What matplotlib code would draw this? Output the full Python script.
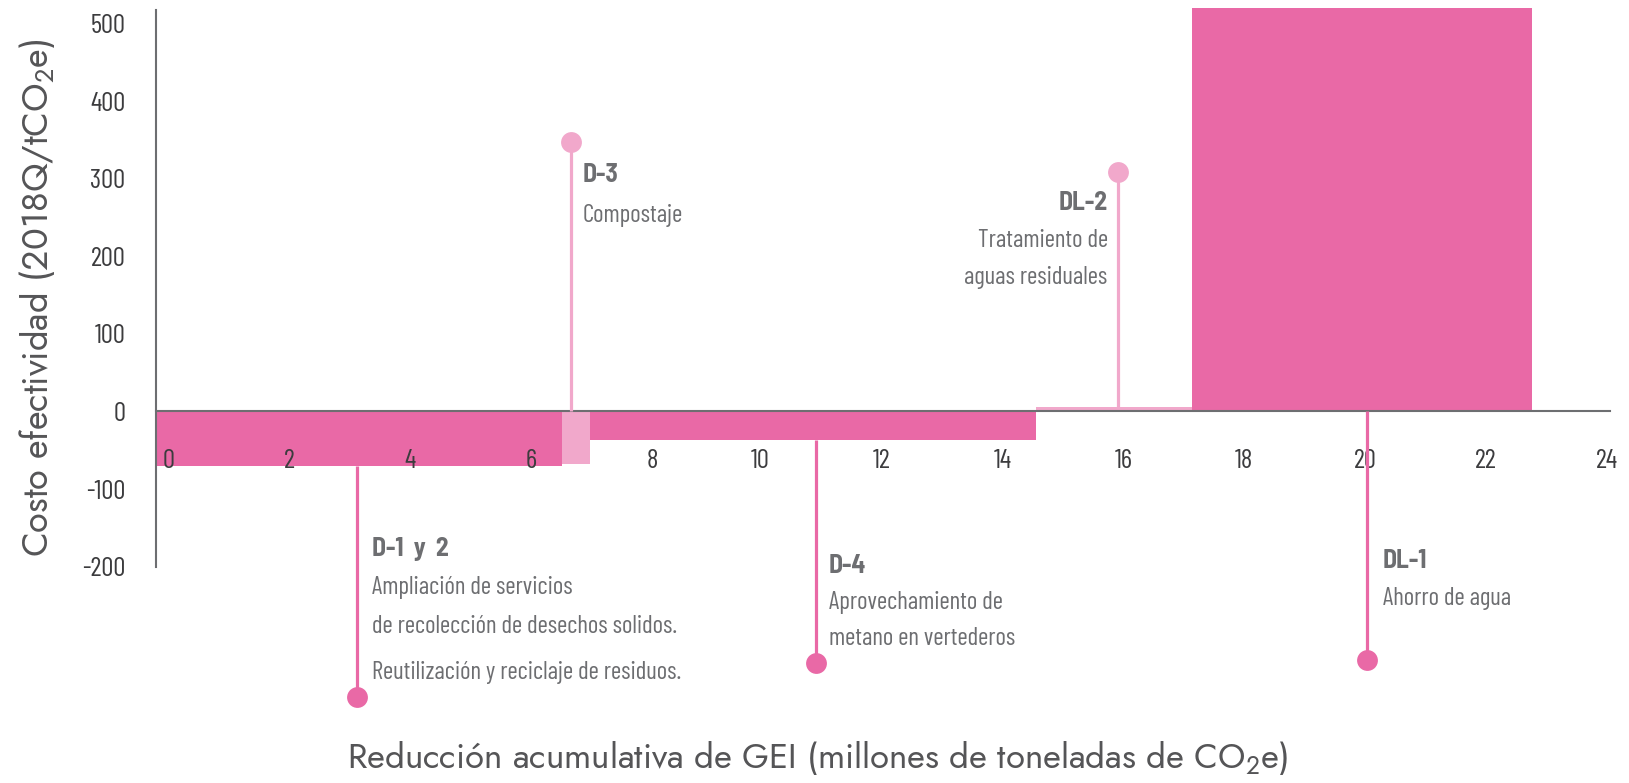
import numpy as np
import matplotlib
matplotlib.use("Agg")
import matplotlib.pyplot as plt
import matplotlib.transforms as mtransforms
from matplotlib import font_manager

# measures, in the order they sit on the x axis
codes = ["D-1 y 2", "D-3", "D-4", "DL-2", "DL-1"]
widths = [6.72, 0.46, 7.37, 2.58, 5.62]       # MtCO2e reduced
costs = [-70, -68, -37, 6, 530]               # 2018Q / tCO2e
shade = ["dark", "light", "dark", "light", "dark"]

stem_x = [3.33, 6.87, 10.91, 15.91, 20.03]
stem_tip = [-368, 347, -324, 309, -320]

descs = [
    ["Ampliación de servicios", "de recolección de desechos solidos."],
    ["Compostaje"],
    ["Aprovechamiento de", "metano en vertederos"],
    ["Tratamiento de", "aguas residuales"],
    ["Ahorro de agua"],
]
extra_note = "Reutilización y reciclaje de residuos."

xticks = list(range(0, 25, 2))
yticks = list(range(-200, 501, 100))

PINK = "#E969A6"
LIGHT = "#F1A8CB"
GREY = "#6D6E71"
DARK = "#3C3C3E"
col = {"dark": PINK, "light": LIGHT}

names = {f.name for f in font_manager.fontManager.ttflist}
def pick(cands):
    for c in cands:
        if c in names:
            return c
    return "DejaVu Sans"
narrow = pick(["Barlow Condensed", "Fira Sans Condensed", "Roboto Condensed", "Archivo Narrow"])
semi = pick(["Barlow Semi Condensed", "Fira Sans Condensed", narrow])
title_font = pick(["Jost", "Futura", "Didact Gothic", "Questrial", "Lato"])

plt.rcParams["axes.unicode_minus"] = False

fig = plt.figure(figsize=(16.29, 7.83), dpi=100)
ax = fig.add_axes([0.0957, 0.0582, 0.902, 0.9317])
ax.set_xlim(0, 24.3)
ax.set_ylim(-420, 520)

left = np.concatenate([[0], np.cumsum(widths)[:-1]])
ax.bar(left, costs, width=widths, align="edge",
       color=[col[s] for s in shade], linewidth=0, zorder=1)

for i in range(len(codes)):
    start = min(costs[i], 0) if stem_tip[i] < 0 else max(costs[i], 0)
    c = col[shade[i]]
    ax.plot([stem_x[i], stem_x[i]], [start, stem_tip[i]], color=c, lw=2.3,
            zorder=3, solid_capstyle="butt")
    ax.plot(stem_x[i], stem_tip[i], "o", ms=15, color=c, mec="none", zorder=4)

# spines / ticks
for s in ["top", "right"]:
    ax.spines[s].set_visible(False)
ax.spines["bottom"].set_position(("data", 0))
ax.spines["bottom"].set_bounds(0, 24.05)
ax.spines["left"].set_bounds(-200, 517)
for s in ["bottom", "left"]:
    ax.spines[s].set_color(GREY)
    ax.spines[s].set_linewidth(1.5)
ax.spines["bottom"].set_zorder(2.6)

ax.set_xticks(xticks)
ax.set_yticks(yticks)
ax.tick_params(length=0, colors=DARK)
ax.tick_params(axis="x", pad=27)
ax.tick_params(axis="y", pad=22)
for lab in ax.get_xticklabels() + ax.get_yticklabels():
    lab.set_fontfamily(narrow)
    lab.set_fontsize(19.5)
# one-digit labels sit a bit right of their tick in the original
shift = mtransforms.ScaledTranslation(12.5 / 100, 0, fig.dpi_scale_trans)
for v, lab in zip(xticks, ax.get_xticklabels()):
    if v < 10:
        lab.set_transform(lab.get_transform() + shift)

# annotations
txt = dict(fontsize=18, color=GREY, va="center")
layout = [  # x offset, ha, y of first line, line step
    (0.24, "left", -177, -50),
    (0.19, "left", 305, -52),
    (0.22, "left", -199, -47),
    (-0.17, "right", 268, -48),
    (0.26, "left", -193, -48),
]
for i, (dx, ha, y0, dy) in enumerate(layout):
    x = stem_x[i] + dx
    ax.text(x, y0, codes[i].replace(" ", "  "), ha=ha, fontfamily=semi,
            fontweight="bold", fontsize=18.5, color=GREY, va="center")
    for k, line in enumerate(descs[i]):
        ax.text(x, y0 + dy * (k + 1), line, ha=ha, fontfamily=narrow, **txt)
ax.text(stem_x[0] + 0.24, -336, extra_note, ha="left", fontfamily=narrow, **txt)

fig.text(0.502, 0.032, r"Reducción acumulativa de GEI (millones de toneladas de CO$_\mathregular{2}$e)",
         ha="center", va="center", fontsize=25, fontfamily=title_font,
         fontweight="light", color="#555557")
fig.text(0.0225, 0.62, r"Costo efectividad (2018Q/tCO$_\mathregular{2}$e)",
         ha="center", va="center", rotation=90, fontsize=26,
         fontfamily=title_font, fontweight="light", color="#555557")

fig.savefig("out.png", dpi=100)
